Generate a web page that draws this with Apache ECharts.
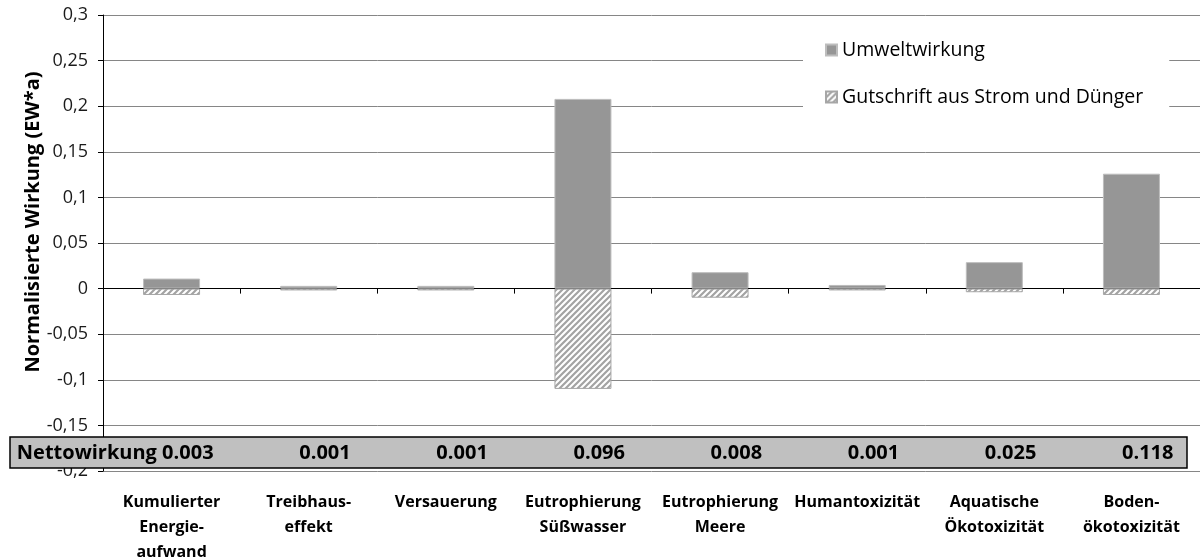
<!DOCTYPE html>
<html><head><meta charset="utf-8">
<script src="https://cdn.jsdelivr.net/npm/echarts@6/dist/echarts.min.js"></script>
<style>html,body{margin:0;padding:0;background:#fff}#c{width:1200px;height:560px}</style>
</head><body><div id="c"></div>
<script>
const categories = ['Kumulierter\nEnergie-\naufwand','Treibhaus-\neffekt','Versauerung','Eutrophierung\nSüßwasser','Eutrophierung\nMeere','Humantoxizität','Aquatische\nÖkotoxizität','Boden-\nökotoxizität'];
const umweltwirkung = [0.011, 0.003, 0.003, 0.208, 0.018, 0.004, 0.029, 0.126];
const gutschrift = [-0.007, -0.002, -0.002, -0.110, -0.010, -0.002, -0.004, -0.007];
const nettowirkung = [0.003, 0.001, 0.001, 0.096, 0.008, 0.001, 0.025, 0.118];
const yTicks = {min: -0.2, max: 0.3, interval: 0.05};

function hatch(){
  const s = 6, c = document.createElement('canvas'); c.width = c.height = s;
  const g = c.getContext('2d');
  g.fillStyle = '#ffffff'; g.fillRect(0,0,s,s);
  g.strokeStyle = '#a3a3a3'; g.lineWidth = 2.2;
  g.beginPath();
  g.moveTo(0,s); g.lineTo(s,0);
  g.moveTo(-s/2,s/2); g.lineTo(s/2,-s/2);
  g.moveTo(s/2,s*1.5); g.lineTo(s*1.5,s/2);
  g.stroke();
  return c;
}
const hatchFill = {image: hatch(), repeat: 'repeat'};
const chart = echarts.init(document.getElementById('c'));
const FONT = '"Open Sans", "Noto Sans", sans-serif';
chart.setOption({
  animation: false,
  grid: {left: 103, right: 0, top: 15, bottom: 89, containLabel: false, outerBoundsMode: 'none'},
  legend: {
    orient: 'vertical', left: 803, top: 30,
    padding: [10, 26, 8, 22], itemGap: 27,
    backgroundColor: '#ffffff',
    itemWidth: 11, itemHeight: 11,
    data: [{name: 'Umweltwirkung', icon: 'rect'}, {name: 'Gutschrift aus Strom und Dünger', icon: 'rect'}],
    textStyle: {fontFamily: FONT, fontSize: 19.5, color: '#000', lineHeight: 20}
  },
  xAxis: [{
    type: 'category', data: categories, gridIndex: 0,
    axisLine: {onZero: true, lineStyle: {color: '#000', width: 1}},
    axisTick: {show: true, length: 5, lineStyle: {color: '#000'}},
    axisLabel: {show: false}, splitLine: {show: false}
  }, {
    type: 'category', data: categories, gridIndex: 0, position: 'bottom',
    axisLine: {show: false, onZero: false}, axisTick: {show: false},
    axisLabel: {show: true, interval: 0, margin: 19, fontFamily: FONT, fontWeight: 'bold', fontSize: 16, lineHeight: 25, color: '#000'}
  }],
  yAxis: {
    type: 'value', min: yTicks.min, max: yTicks.max, interval: yTicks.interval,
    axisLine: {show: true, lineStyle: {color: '#000'}},
    axisTick: {show: true, length: 5, lineStyle: {color: '#000'}},
    splitLine: {lineStyle: {color: '#868686', width: 1}},
    axisLabel: {margin: 15, fontFamily: FONT, fontSize: 18, color: '#1a1a1a',
      formatter: v => { const r = Math.round(v*100)/100; return (r === 0 ? '0' : String(r)).replace('.', ','); }}
  },
  graphic: [{
    type: 'text', x: 33, y: 222, rotation: Math.PI/2,
    style: {text: 'Normalisierte Wirkung (EW*a)', font: 'bold 20px "Open Sans", sans-serif', fill: '#000', textAlign: 'center', textVerticalAlign: 'middle'}
  }, {
    type: 'rect', z: 3, shape: {x: 10, y: 437, width: 1177, height: 31},
    style: {fill: '#c0c0c0', stroke: '#000', lineWidth: 1.5}
  }],
  series: [{
    name: 'Umweltwirkung', type: 'bar', stack: 'a', barWidth: 57,
    data: umweltwirkung,
    itemStyle: {color: '#969696', borderColor: '#bdbdbd', borderWidth: 1}
  }, {
    name: 'Gutschrift aus Strom und Dünger', type: 'bar', stack: 'a', barWidth: 57,
    data: gutschrift,
    itemStyle: {color: hatchFill, borderColor: '#a6a6a6', borderWidth: 1}
  }, {
    name: 'Nettowirkung', type: 'custom', z: 5, clip: false,
    data: nettowirkung.map((v, i) => [i, v]),
    encode: {x: 0},
    renderItem: (params, api) => {
      const i = api.value(0);
      const x = api.coord([i, 0])[0];
      const t = (i === 0 ? 'Nettowirkung ' : '') + nettowirkung[i].toFixed(3);
      return {type: 'text', x: x + 42, y: 453,
        style: {text: t, textAlign: 'right', textVerticalAlign: 'middle', font: 'bold 20px ' + FONT, fill: '#000'}};
    }
  }]
});
</script></body></html>
